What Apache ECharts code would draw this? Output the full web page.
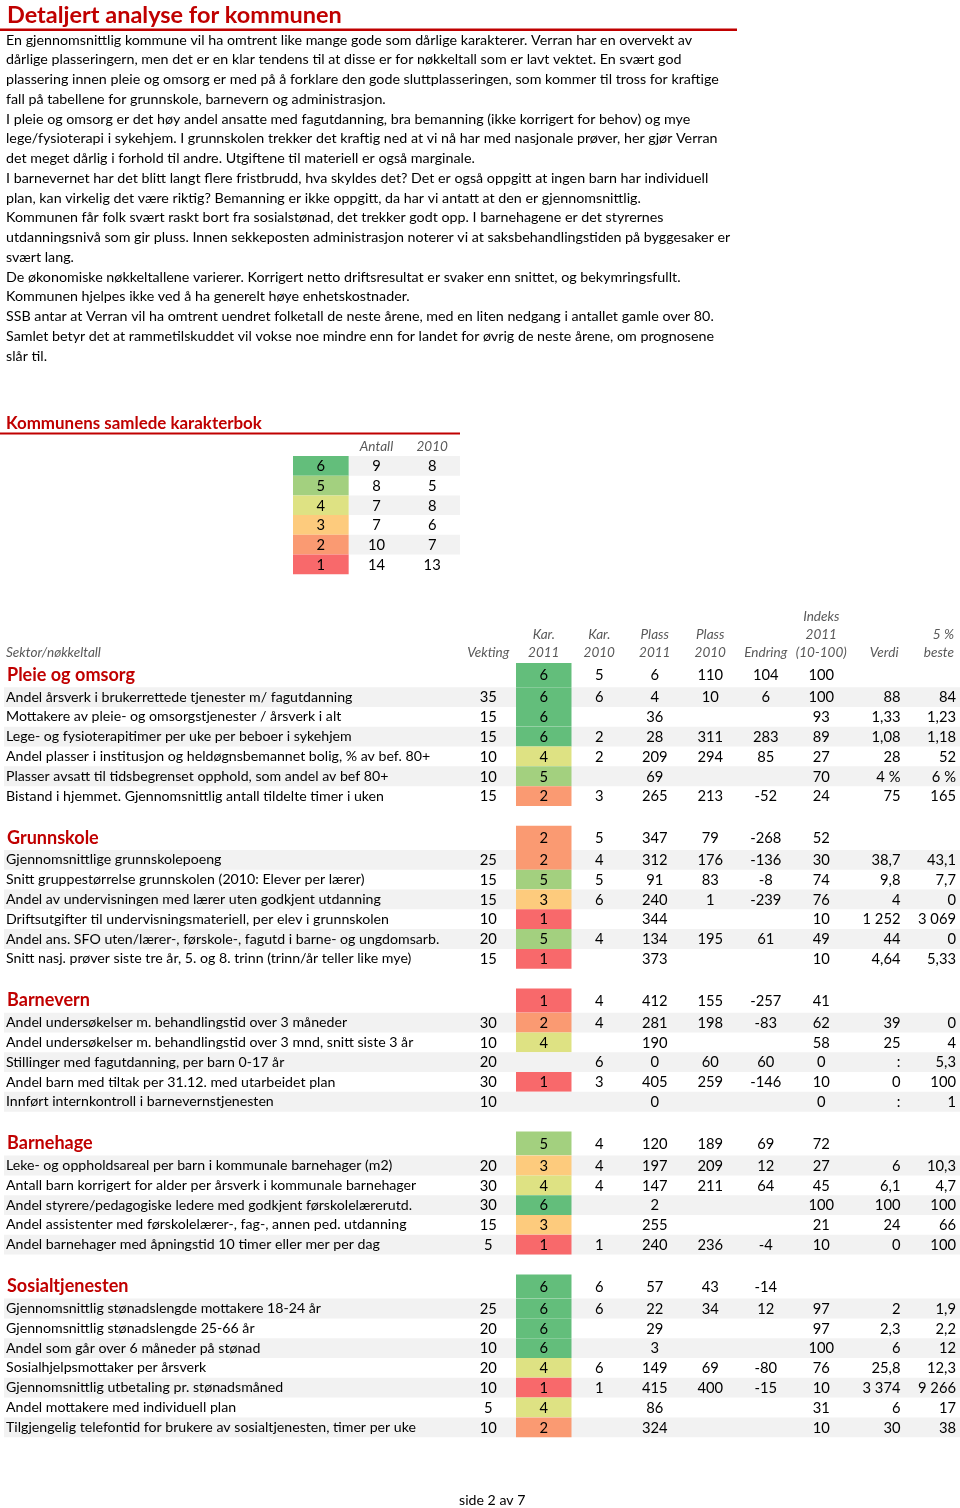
<!DOCTYPE html>
<html><head><meta charset="utf-8">
<script src="https://cdn.jsdelivr.net/npm/echarts@6/dist/echarts.min.js"></script>
<style>html,body{margin:0;padding:0;background:#fff}#c{width:960px;height:1508px}</style>
</head><body><div id="c"></div>
<script>
// ---------------- DATA ----------------
const pageTitle = 'Detaljert analyse for kommunen';
const introLines = [
 'En gjennomsnittlig kommune vil ha omtrent like mange gode som dårlige karakterer. Verran har en overvekt av',
 'dårlige plasseringern, men det er en klar tendens til at disse er for nøkkeltall som er lavt vektet. En svært god',
 'plassering innen pleie og omsorg er med på å forklare den gode sluttplasseringen, som kommer til tross for kraftige',
 'fall på tabellene for grunnskole, barnevern og administrasjon.',
 'I pleie og omsorg er det høy andel ansatte med fagutdanning, bra bemanning (ikke korrigert for behov) og mye',
 'lege/fysioterapi i sykehjem. I grunnskolen trekker det kraftig ned at vi nå har med nasjonale prøver, her gjør Verran',
 'det meget dårlig i forhold til andre. Utgiftene til materiell er også marginale.',
 'I barnevernet har det blitt langt flere fristbrudd, hva skyldes det? Det er også oppgitt at ingen barn har individuell',
 'plan, kan virkelig det være riktig? Bemanning er ikke oppgitt, da har vi antatt at den er gjennomsnittlig.',
 'Kommunen får folk svært raskt bort fra sosialstønad, det trekker godt opp. I barnehagene er det styrernes',
 'utdanningsnivå som gir pluss. Innen sekkeposten administrasjon noterer vi at saksbehandlingstiden på byggesaker er',
 'svært lang.',
 'De økonomiske nøkkeltallene varierer. Korrigert netto driftsresultat er svaker enn snittet, og bekymringsfullt.',
 'Kommunen hjelpes ikke ved å ha generelt høye enhetskostnader.',
 'SSB antar at Verran vil ha omtrent uendret folketall de neste årene, med en liten nedgang i antallet gamle over 80.',
 'Samlet betyr det at rammetilskuddet vil vokse noe mindre enn for landet for øvrig de neste årene, om prognosene',
 'slår til.'
];
const bookTitle = 'Kommunens samlede karakterbok';
const bookColumns = ['', 'Antall', '2010'];
const bookGrades = [6, 5, 4, 3, 2, 1];
const bookCount2011 = [9, 8, 7, 7, 10, 14];
const bookCount2010 = [8, 5, 8, 6, 7, 13];

const tableHeaderFirst = 'Sektor/nøkkeltall';
const columnHeaders = ['Vekting', 'Kar.\n2011', 'Kar.\n2010', 'Plass\n2011', 'Plass\n2010', 'Endring', 'Indeks\n2011\n(10-100)', 'Verdi', '5 %\nbeste'];

const sectionNames = ['Pleie og omsorg', 'Grunnskole', 'Barnevern', 'Barnehage', 'Sosialtjenesten'];
// section summary: [kar2011, kar2010, plass2011, plass2010, endring, indeks]
const sectionSummary = [
 ['6', '5', '6', '110', '104', '100'],
 ['2', '5', '347', '79', '-268', '52'],
 ['1', '4', '412', '155', '-257', '41'],
 ['5', '4', '120', '189', '69', '72'],
 ['6', '6', '57', '43', '-14', '']
];
const pleieLabels = [
 'Andel årsverk i brukerrettede tjenester m/ fagutdanning',
 'Mottakere av pleie- og omsorgstjenester / årsverk i alt',
 'Lege- og fysioterapitimer per uke per beboer i sykehjem',
 'Andel plasser i institusjon og heldøgnsbemannet bolig, % av bef. 80+',
 'Plasser avsatt til tidsbegrenset opphold, som andel av bef 80+',
 'Bistand i hjemmet. Gjennomsnittlig antall tildelte timer i uken'
];
// [vekting, kar2011, kar2010, plass2011, plass2010, endring, indeks, verdi, 5% beste]
const pleieValues = [
 ['35', '6', '6', '4', '10', '6', '100', '88', '84'],
 ['15', '6', '', '36', '', '', '93', '1,33', '1,23'],
 ['15', '6', '2', '28', '311', '283', '89', '1,08', '1,18'],
 ['10', '4', '2', '209', '294', '85', '27', '28', '52'],
 ['10', '5', '', '69', '', '', '70', '4 %', '6 %'],
 ['15', '2', '3', '265', '213', '-52', '24', '75', '165']
];
const grunnskoleLabels = [
 'Gjennomsnittlige grunnskolepoeng',
 'Snitt gruppestørrelse grunnskolen (2010: Elever per lærer)',
 'Andel av undervisningen med lærer uten godkjent utdanning',
 'Driftsutgifter til undervisningsmateriell, per elev i grunnskolen',
 'Andel ans. SFO uten/lærer-, førskole-, fagutd i barne- og ungdomsarb.',
 'Snitt nasj. prøver siste tre år, 5. og 8. trinn (trinn/år teller like mye)'
];
const grunnskoleValues = [
 ['25', '2', '4', '312', '176', '-136', '30', '38,7', '43,1'],
 ['15', '5', '5', '91', '83', '-8', '74', '9,8', '7,7'],
 ['15', '3', '6', '240', '1', '-239', '76', '4', '0'],
 ['10', '1', '', '344', '', '', '10', '1 252', '3 069'],
 ['20', '5', '4', '134', '195', '61', '49', '44', '0'],
 ['15', '1', '', '373', '', '', '10', '4,64', '5,33']
];
const barnevernLabels = [
 'Andel undersøkelser m. behandlingstid over 3 måneder',
 'Andel undersøkelser m. behandlingstid over 3 mnd, snitt siste 3 år',
 'Stillinger med fagutdanning, per barn 0-17 år',
 'Andel barn med tiltak per 31.12. med utarbeidet plan',
 'Innført internkontroll i barnevernstjenesten'
];
const barnevernValues = [
 ['30', '2', '4', '281', '198', '-83', '62', '39', '0'],
 ['10', '4', '', '190', '', '', '58', '25', '4'],
 ['20', '', '6', '0', '60', '60', '0', ':', '5,3'],
 ['30', '1', '3', '405', '259', '-146', '10', '0', '100'],
 ['10', '', '', '0', '', '', '0', ':', '1']
];
const barnehageLabels = [
 'Leke- og oppholdsareal per barn i kommunale barnehager (m2)',
 'Antall barn korrigert for alder per årsverk i kommunale barnehager',
 'Andel styrere/pedagogiske ledere med godkjent førskolelærerutd.',
 'Andel assistenter med førskolelærer-, fag-, annen ped. utdanning',
 'Andel barnehager med åpningstid 10 timer eller mer per dag'
];
const barnehageValues = [
 ['20', '3', '4', '197', '209', '12', '27', '6', '10,3'],
 ['30', '4', '4', '147', '211', '64', '45', '6,1', '4,7'],
 ['30', '6', '', '2', '', '', '100', '100', '100'],
 ['15', '3', '', '255', '', '', '21', '24', '66'],
 ['5', '1', '1', '240', '236', '-4', '10', '0', '100']
];
const sosialLabels = [
 'Gjennomsnittlig stønadslengde mottakere 18-24 år',
 'Gjennomsnittlig stønadslengde 25-66 år',
 'Andel som går over 6 måneder på stønad',
 'Sosialhjelpsmottaker per årsverk',
 'Gjennomsnittlig utbetaling pr. stønadsmåned',
 'Andel mottakere med individuell plan',
 'Tilgjengelig telefontid for brukere av sosialtjenesten, timer per uke'
];
const sosialValues = [
 ['25', '6', '6', '22', '34', '12', '97', '2', '1,9'],
 ['20', '6', '', '29', '', '', '97', '2,3', '2,2'],
 ['10', '6', '', '3', '', '', '100', '6', '12'],
 ['20', '4', '6', '149', '69', '-80', '76', '25,8', '12,3'],
 ['10', '1', '1', '415', '400', '-15', '10', '3 374', '9 266'],
 ['5', '4', '', '86', '', '', '31', '6', '17'],
 ['10', '2', '', '324', '', '', '10', '30', '38']
];
const footerText = 'side 2 av 7';

// ---------------- STYLE / LAYOUT ----------------
const RED = '#C00000';
const GREY_TXT = '#595959';
const STRIPE = '#F2F2F2';
const GRADE_COLORS = {1:'#F8696B', 2:'#FA9A72', 3:'#FDCB7D', 4:'#DEE283', 5:'#A3D07F', 6:'#63BE7B'};
const FAM = 'Lato';
const FONT = 'Lato, "Open Sans", sans-serif';

const mctx = document.createElement('canvas').getContext('2d');
function fit(text, weight, style, target) {
  mctx.font = (style || 'normal') + ' ' + (weight || 'normal') + ' 100px ' + FAM;
  return 100 * target / mctx.measureText(text).width;
}
const bodySize = fit(introLines[0], 'normal', 'normal', 687);
const titleSize = fit(pageTitle, 'bold', 'normal', 335);
const bookTitleSize = fit(bookTitle, 'bold', 'normal', 256);
const rowSize = fit(pleieLabels[0], 'normal', 'normal', 347);
const numSize = rowSize * 1.04;
const secSize = fit(sectionNames[0], 'bold', 'normal', 128);
const hdrSize = fit(tableHeaderFirst, 'normal', 'italic', 95);

const sectionLabels = [pleieLabels, grunnskoleLabels, barnevernLabels, barnehageLabels, sosialLabels];
const sectionValues = [pleieValues, grunnskoleValues, barnevernValues, barnehageValues, sosialValues];

// row layout in row units
const ROW = 1, HEAD = 1.22, GAP = 1, PX = 19.8;
const layout = [];
let yPos = 0;
sectionNames.forEach((name, s) => {
  if (s > 0) yPos += GAP;
  layout.push({kind: 'head', y0: yPos, h: HEAD, label: name, vals: [''].concat(sectionSummary[s]).concat(['', ''])});
  yPos += HEAD;
  sectionLabels[s].forEach((lab, j) => {
    layout.push({kind: 'row', y0: yPos, h: ROW, label: lab, vals: sectionValues[s][j], stripe: j % 2 === 0});
    yPos += ROW;
  });
});
const Y_TOTAL = yPos;
const Y_HEAD = 3;
const TABLE_TOP = 663 - Y_HEAD * PX;
const X_LABEL = 8.225, X_COLS = 9;

function renderTable(params, api) {
  const idx = api.value(2);
  const xl = api.coord([-X_LABEL, 0])[0];
  const xr = api.coord([X_COLS, 0])[0];
  const children = [];
  if (idx < 0) {
    const yb = api.coord([0, 0])[1] - 1;
    children.push({type: 'text', style: {text: tableHeaderFirst, x: xl + 2, y: yb, fill: GREY_TXT, fontSize: hdrSize, fontStyle: 'italic', fontFamily: FONT, align: 'left', verticalAlign: 'bottom', lineHeight: 18}});
    columnHeaders.forEach((t, i) => {
      const right = i >= 7;
      const x = right ? api.coord([i + 1, 0])[0] - 6 : api.coord([i + 0.5, 0])[0];
      children.push({type: 'text', style: {text: t, x: x, y: yb, fill: GREY_TXT, fontSize: hdrSize, fontStyle: 'italic', fontFamily: FONT, align: right ? 'right' : 'center', verticalAlign: 'bottom', lineHeight: 18}});
    });
    return {type: 'group', children};
  }
  const r = layout[idx];
  const yt = api.coord([0, r.y0])[1];
  const yb = api.coord([0, r.y0 + r.h])[1];
  const yc = (yt + yb) / 2;
  if (r.stripe) children.push({type: 'rect', shape: {x: xl, y: yt, width: xr - xl, height: yb - yt}, style: {fill: STRIPE}});
  const g = r.vals[1];
  if (g !== '') {
    const x1 = api.coord([1, 0])[0], x2 = api.coord([2, 0])[0];
    children.push({type: 'rect', shape: {x: x1, y: yt, width: x2 - x1, height: yb - yt}, style: {fill: GRADE_COLORS[g]}});
  }
  if (r.kind === 'head') {
    children.push({type: 'text', style: {text: r.label, x: xl + 3, y: yc, fill: RED, fontSize: secSize, fontWeight: 'bold', fontFamily: FONT, align: 'left', verticalAlign: 'middle'}});
  } else {
    children.push({type: 'text', style: {text: r.label, x: xl + 2, y: yc, fill: '#000', fontSize: rowSize, fontFamily: FONT, align: 'left', verticalAlign: 'middle'}});
  }
  r.vals.forEach((v, i) => {
    if (v === '') return;
    const right = i >= 7;
    const x = right ? api.coord([i + 1, 0])[0] - 4 : api.coord([i + 0.5, 0])[0];
    children.push({type: 'text', style: {text: v, x: x, y: yc + 0.5, fill: '#000', fontSize: numSize, fontFamily: FONT, align: right ? 'right' : 'center', verticalAlign: 'middle'}});
  });
  return {type: 'group', children};
}

function renderBook(params, api) {
  const row = api.value(0);
  const c0 = api.coord([0, row]);
  const size = api.size([1, 1]);
  const w = size[0], h = size[1];
  const children = [];
  if (row % 2 === 0) {
    children.push({type: 'rect', shape: {x: c0[0] + w / 2, y: c0[1] - h / 2, width: 2 * w, height: h}, style: {fill: STRIPE}});
  }
  const g = bookGrades[row];
  children.push({type: 'rect', shape: {x: c0[0] - w / 2, y: c0[1] - h / 2, width: w, height: h}, style: {fill: GRADE_COLORS[g]}});
  [String(g), String(bookCount2011[row]), String(bookCount2010[row])].forEach((t, i) => {
    const c = api.coord([i, row]);
    children.push({type: 'text', style: {text: t, x: c[0], y: c[1] + 0.5, fill: '#000', fontSize: numSize, fontFamily: FONT, align: 'center', verticalAlign: 'middle'}});
  });
  return {type: 'group', children};
}

const chart = echarts.init(document.getElementById('c'), null, {renderer: 'canvas'});
const tableData = [[0, -1, -1]].concat(layout.map((r, i) => [0, r.y0 + r.h / 2, i]));
chart.setOption({
  animation: false,
  backgroundColor: '#fff',
  grid: [
    {left: 4, width: 956, top: TABLE_TOP, height: (Y_TOTAL + Y_HEAD) * PX, containLabel: false},
    {left: 293, width: 167, top: 456, height: 118.2, containLabel: false}
  ],
  xAxis: [
    {type: 'value', gridIndex: 0, min: -X_LABEL, max: X_COLS, show: false},
    {type: 'category', gridIndex: 1, data: bookColumns, position: 'top',
     axisLine: {show: false}, axisTick: {show: false}, splitLine: {show: false},
     axisLabel: {color: GREY_TXT, fontStyle: 'italic', fontFamily: FONT, fontSize: hdrSize, margin: 2}}
  ],
  yAxis: [
    {type: 'value', gridIndex: 0, min: -Y_HEAD, max: Y_TOTAL, inverse: true, show: false},
    {type: 'category', gridIndex: 1, data: bookGrades.map(String), inverse: true, show: false}
  ],
  graphic: [
    {type: 'text', left: 7, top: 18 - titleSize * 0.62, style: {text: pageTitle, fill: RED, fontSize: titleSize, fontWeight: 'bold', fontFamily: FONT}},
    {type: 'rect', left: 0, top: 28.5, shape: {width: 737, height: 2.5}, style: {fill: RED}},
    {type: 'text', left: 6, top: 40 - 19.75 / 2, style: {text: introLines.join('\n'), fill: '#000', fontSize: bodySize, fontFamily: FONT, lineHeight: 19.75}},
    {type: 'text', left: 6, top: 426 - bookTitleSize * 0.62, style: {text: bookTitle, fill: RED, fontSize: bookTitleSize, fontWeight: 'bold', fontFamily: FONT}},
    {type: 'rect', left: 0, top: 432.5, shape: {width: 460, height: 2}, style: {fill: RED}},
    {type: 'text', left: 459, top: 1493, style: {text: footerText, fill: '#000', fontSize: rowSize, fontFamily: FONT}}
  ],
  series: [
    {type: 'custom', xAxisIndex: 0, yAxisIndex: 0, coordinateSystem: 'cartesian2d', clip: false, silent: true,
     encode: {x: 0, y: 1}, data: tableData, renderItem: renderTable},
    {type: 'custom', xAxisIndex: 1, yAxisIndex: 1, coordinateSystem: 'cartesian2d', clip: false, silent: true,
     encode: {x: 1, y: 0}, data: bookGrades.map((g, i) => [i, 0]), renderItem: renderBook}
  ]
});
</script></body></html>
